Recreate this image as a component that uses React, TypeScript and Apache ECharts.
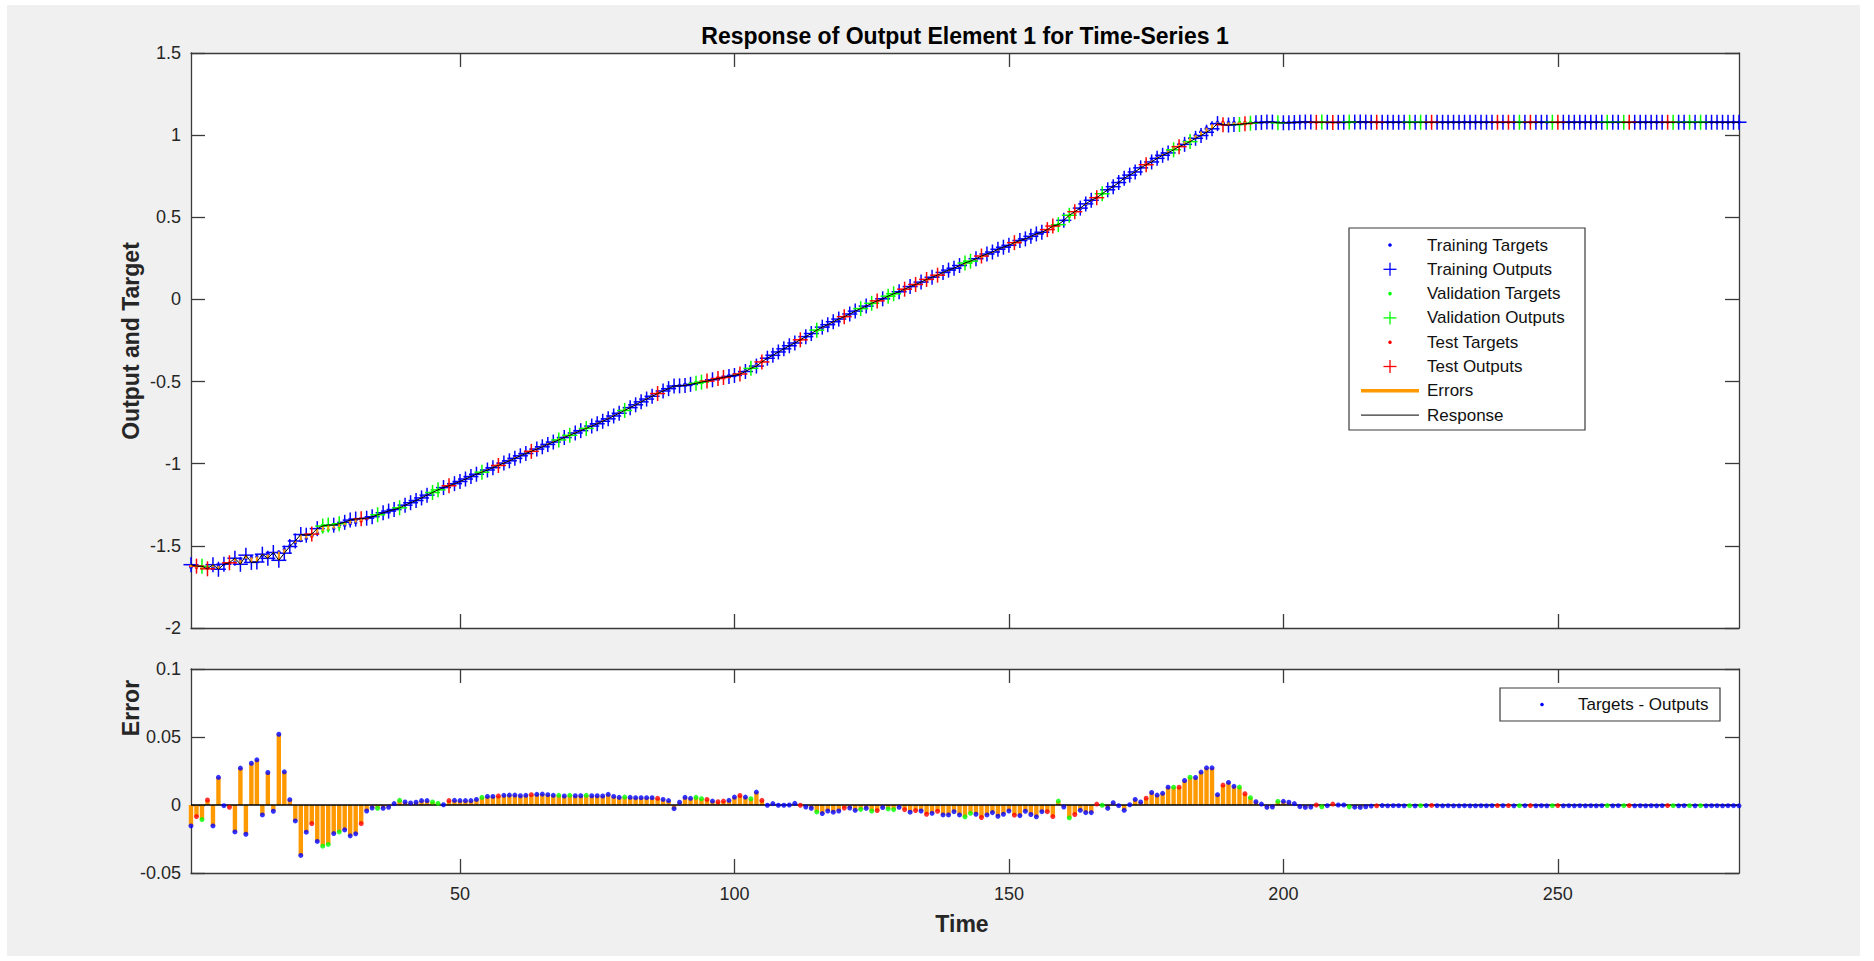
import React, { useEffect, useRef } from "react";
import * as echarts from "echarts";

// ---------- data ----------
const timeSteps: number[] = [];
for (let i = 1; i <= 283; i++) timeSteps.push(i);

const targets: number[] = [
  -1.630, -1.632, -1.635, -1.636, -1.630, -1.622, -1.612, -1.605, -1.595, -1.585,
  -1.578, -1.570, -1.565, -1.558, -1.552, -1.545, -1.536, -1.520, -1.500, -1.482,
  -1.468, -1.455, -1.442, -1.422, -1.410, -1.402, -1.395, -1.385, -1.375, -1.366,
  -1.358, -1.348, -1.336, -1.325, -1.313, -1.301, -1.290, -1.278, -1.265, -1.250,
  -1.236, -1.222, -1.205, -1.188, -1.173, -1.158, -1.145, -1.131, -1.118, -1.105,
  -1.090, -1.075, -1.060, -1.046, -1.032, -1.018, -1.004, -0.989, -0.975, -0.960,
  -0.945, -0.931, -0.917, -0.903, -0.889, -0.875, -0.861, -0.848, -0.834, -0.820,
  -0.806, -0.792, -0.778, -0.764, -0.750, -0.735, -0.719, -0.703, -0.687, -0.670,
  -0.653, -0.636, -0.618, -0.601, -0.584, -0.568, -0.553, -0.540, -0.530, -0.524,
  -0.518, -0.512, -0.505, -0.499, -0.493, -0.486, -0.479, -0.472, -0.465, -0.457,
  -0.447, -0.433, -0.415, -0.396, -0.377, -0.358, -0.339, -0.320, -0.301, -0.282,
  -0.264, -0.246, -0.228, -0.210, -0.192, -0.175, -0.158, -0.141, -0.124, -0.107,
  -0.091, -0.075, -0.059, -0.043, -0.028, -0.013, 0.002, 0.017, 0.031, 0.045,
  0.059, 0.073, 0.087, 0.101, 0.115, 0.129, 0.143, 0.157, 0.171, 0.185,
  0.199, 0.213, 0.227, 0.241, 0.255, 0.269, 0.283, 0.297, 0.311, 0.325,
  0.338, 0.351, 0.364, 0.377, 0.390, 0.404, 0.420, 0.438, 0.458, 0.480,
  0.503, 0.527, 0.552, 0.576, 0.598, 0.620, 0.643, 0.665, 0.688, 0.711,
  0.734, 0.757, 0.780, 0.803, 0.825, 0.846, 0.866, 0.886, 0.905, 0.924,
  0.943, 0.962, 0.981, 1.001, 1.022, 1.045, 1.066, 1.078,
  1.078, 1.078, 1.078, 1.078, 1.078, 1.078, 1.078, 1.078, 1.078, 1.078,
  1.078, 1.078, 1.078, 1.078, 1.078, 1.078, 1.078, 1.078, 1.078, 1.078,
  1.078, 1.078, 1.078, 1.078, 1.078, 1.078, 1.078, 1.078, 1.078, 1.078,
  1.078, 1.078, 1.078, 1.078, 1.078, 1.078, 1.078, 1.078, 1.078, 1.078,
  1.078, 1.078, 1.078, 1.078, 1.078, 1.078, 1.078, 1.078, 1.078, 1.078,
  1.078, 1.078, 1.078, 1.078, 1.078, 1.078, 1.078, 1.078, 1.078, 1.078,
  1.078, 1.078, 1.078, 1.078, 1.078, 1.078, 1.078, 1.078, 1.078, 1.078,
  1.078, 1.078, 1.078, 1.078, 1.078, 1.078, 1.078, 1.078, 1.078, 1.078,
  1.078, 1.078, 1.078, 1.078, 1.078, 1.078, 1.078, 1.078, 1.078, 1.078,
  1.078, 1.078, 1.078, 1.078, 1.078,
];

// errors = targets - outputs
const errors: number[] = [
  -0.0154, -0.0085, -0.0107, 0.0037, -0.0154, 0.0203, -0.0005, -0.0017, -0.0198, 0.0271,
  -0.0215, 0.0307, 0.0332, -0.0073, 0.0239, -0.0046, 0.0520, 0.0244, 0.0039, -0.0117,
  -0.0371, -0.0200, -0.0137, -0.0268, -0.0303, -0.0290, -0.0210, -0.0198, -0.0183, -0.0227,
  -0.0212, -0.0137, -0.0044, -0.0022, -0.0024, -0.0024, -0.0017, 0.0010, 0.0034, 0.0022,
  0.0015, 0.0020, 0.0032, 0.0032, 0.0022, 0.0012, 0.0002, 0.0032, 0.0034, 0.0032,
  0.0032, 0.0032, 0.0041, 0.0056, 0.0063, 0.0063, 0.0066, 0.0071, 0.0073, 0.0073,
  0.0068, 0.0071, 0.0076, 0.0078, 0.0080, 0.0076, 0.0071, 0.0071, 0.0066, 0.0071,
  0.0068, 0.0068, 0.0071, 0.0068, 0.0068, 0.0066, 0.0078, 0.0063, 0.0056, 0.0058,
  0.0056, 0.0054, 0.0054, 0.0054, 0.0054, 0.0049, 0.0041, 0.0032, -0.0027, 0.0020,
  0.0056, 0.0049, 0.0056, 0.0046, 0.0041, 0.0029, 0.0024, 0.0029, 0.0034, 0.0058,
  0.0070, 0.0058, 0.0046, 0.0095, 0.0034, -0.0002, 0.0010, -0.0002, -0.0002, 0.0000,
  0.0012, -0.0002, -0.0015, -0.0024, -0.0051, -0.0063, -0.0044, -0.0053, -0.0044, -0.0022,
  -0.0022, -0.0039, -0.0032, -0.0024, -0.0044, -0.0041, -0.0019, -0.0029, -0.0034, -0.0017,
  -0.0034, -0.0053, -0.0041, -0.0044, -0.0068, -0.0061, -0.0046, -0.0073, -0.0073, -0.0049,
  -0.0073, -0.0087, -0.0061, -0.0068, -0.0092, -0.0073, -0.0056, -0.0083, -0.0068, -0.0044,
  -0.0075, -0.0078, -0.0046, -0.0070, -0.0087, -0.0049, -0.0049, -0.0085, 0.0029, -0.0015,
  -0.0095, -0.0070, -0.0039, -0.0056, -0.0056, 0.0007, -0.0002, -0.0024, 0.0017, -0.0005,
  -0.0039, 0.0002, 0.0041, 0.0022, 0.0050, 0.0092, 0.0073, 0.0086, 0.0131, 0.0131,
  0.0131, 0.0180, 0.0204, 0.0202, 0.0242, 0.0273, 0.0273, 0.0076, 0.0146, 0.0166,
  0.0137, 0.0132, 0.0083, 0.0054, 0.0024, 0.0007, -0.0017, -0.0015, 0.0027, 0.0027,
  0.0020, 0.0010, -0.0012, -0.0018, -0.0015, 0.0000, -0.0013, -0.0005, 0.0007, 0.0000,
  0.0000, -0.0013, -0.0016, -0.0018, -0.0013, -0.0008, -0.0006, -0.0004, -0.0006, -0.0005,
  -0.0005, -0.0006, -0.0005, -0.0007, -0.0005, -0.0004, -0.0003, -0.0005, -0.0006, -0.0005,
  -0.0006, -0.0006, -0.0005, -0.0006, -0.0006, -0.0005, -0.0006, -0.0005, -0.0004, -0.0005,
  -0.0004, -0.0006, -0.0005, -0.0005, -0.0004, -0.0006, -0.0005, -0.0006, -0.0005, -0.0004,
  -0.0006, -0.0005, -0.0006, -0.0005, -0.0006, -0.0005, -0.0006, -0.0005, -0.0004, -0.0006,
  -0.0005, -0.0005, -0.0004, -0.0006, -0.0005, -0.0006, -0.0005, -0.0006, -0.0005, -0.0004,
  -0.0005, -0.0006, -0.0005, -0.0005, -0.0006, -0.0005, -0.0006, -0.0005, -0.0005, -0.0006,
  -0.0005, -0.0005, -0.0006,
];

// T = training, V = validation, E = test
const splitCodes: string =
  "TEVETTTETT" + "TTTTTTTTTT" + "TTETVVTVTT" + "TETTVTTTVT" + "TTTTVVTETT" +
  "TTTVTTETTT" + "TTETTTTVTV" + "TTVTTTTTTV" + "TTTTTETTTT" + "TTVVETEETT" +
  "ETVTETTTTT" + "TETTVTTTTE" + "TTVTVETVVT" + "ETETETETTT" + "TVVTETTTTT" +
  "ETTTTTEEVT" + "VETTTEVTTT" + "TTTTETTTTV" + "ETVTTTTTET" + "TVEVTTTTVT" +
  "TTTTTEVTET" + "TVTTTTETTT" + "TTVTVTETTT" + "TTTTTTTTET" + "ETVTETTTVE" +
  "TTTTTTTTVT" + "TVETTTTTTE" + "VTTVTVTTTT" + "TTT";

const xTickValues: number[] = [50, 100, 150, 200, 250];

const legendLabels: string[] = [
  "Training Targets", "Training Outputs", "Validation Targets", "Validation Outputs",
  "Test Targets", "Test Outputs", "Errors", "Response",
];

// ---------- styles ----------
const COLORS: Record<string, string> = { T: "#0000ff", V: "#00ff00", E: "#ff0000" };
const ORANGE = "#ff9900";
const AXIS = "#3a3a3a";
const FONT = "'Liberation Sans', Arial, Helvetica, sans-serif";
const PLUS_HALF = 7.5;
const PLUS_WIDTH = 1.5;

export default function App() {
  const ref = useRef<HTMLDivElement>(null);

  useEffect(() => {
    if (!ref.current) return;
    const chart = echarts.init(ref.current, null, { renderer: "svg", width: 1874, height: 961 });

    const outputs = targets.map((t, i) => t - errors[i]);

    const targetData = (code: string) =>
      timeSteps.filter((_, i) => splitCodes[i] === code).map((t) => [t, targets[t - 1]]);
    const outputData = (code: string) =>
      timeSteps.filter((_, i) => splitCodes[i] === code).map((t) => [t, outputs[t - 1]]);
    const errorData = (code: string) =>
      timeSteps.filter((_, i) => splitCodes[i] === code).map((t) => [t, errors[t - 1]]);

    const plusSeries = (code: string) => ({
      type: "custom",
      xAxisIndex: 0,
      yAxisIndex: 0,
      clip: false,
      z: 3,
      data: outputData(code),
      renderItem: (params: any, api: any) => {
        const p = api.coord([api.value(0), api.value(1)]);
        const h = PLUS_HALF;
        const st = { stroke: COLORS[code], lineWidth: PLUS_WIDTH };
        return {
          type: "group",
          children: [
            { type: "line", shape: { x1: p[0] - h, y1: p[1], x2: p[0] + h, y2: p[1] }, style: st },
            { type: "line", shape: { x1: p[0], y1: p[1] - h, x2: p[0], y2: p[1] + h }, style: st },
          ],
        };
      },
    });

    const targetSeries = (code: string) => ({
      type: "scatter",
      xAxisIndex: 0,
      yAxisIndex: 0,
      symbol: "circle",
      symbolSize: 3.5,
      z: 2,
      itemStyle: { color: COLORS[code] },
      data: targetData(code),
    });

    const errDotSeries = (code: string) => ({
      type: "scatter",
      xAxisIndex: 2,
      yAxisIndex: 2,
      symbol: "circle",
      symbolSize: 5,
      z: 5,
      itemStyle: { color: COLORS[code] },
      data: errorData(code),
    });

    const makeX = (gridIndex: number, position: "bottom" | "top", labels: boolean) => ({
      type: "value",
      gridIndex,
      position,
      min: 1,
      max: 283,
      axisLine: { show: true, onZero: false, lineStyle: { color: AXIS, width: 1.3 } },
      axisTick: { show: true, inside: true, length: 14, customValues: xTickValues, lineStyle: { color: AXIS, width: 1.3 } },
      axisLabel: { show: labels, customValues: xTickValues, fontSize: 18, color: "#262626", fontFamily: FONT, margin: 12 },
      splitLine: { show: false },
    });

    const makeY = (gridIndex: number, position: "left" | "right", labels: boolean, min: number, max: number, interval: number) => ({
      type: "value",
      gridIndex,
      position,
      min,
      max,
      interval,
      axisLine: { show: true, onZero: false, lineStyle: { color: AXIS, width: 1.3 } },
      axisTick: { show: true, inside: true, length: 14, lineStyle: { color: AXIS, width: 1.3 } },
      axisLabel: {
        show: labels,
        fontSize: 18,
        color: "#262626",
        fontFamily: FONT,
        margin: 10,
        formatter: (v: number) => String(Math.round(v * 1000) / 1000),
      },
      splitLine: { show: false },
    });

    // legend graphics
    const lgX = 1390;
    const lgTextX = 1427;
    const lgY0 = 245;
    const lgStep = 24.3;
    const legendChildren: any[] = [
      { type: "rect", shape: { x: 1349, y: 228, width: 236, height: 202 }, style: { fill: "#fff", stroke: AXIS, lineWidth: 1.2 } },
    ];
    const legendCodes = ["T", "T", "V", "V", "E", "E"];
    legendLabels.forEach((label, i) => {
      const y = lgY0 + i * lgStep;
      if (i < 6) {
        const c = COLORS[legendCodes[i]];
        if (i % 2 === 0) {
          legendChildren.push({ type: "circle", shape: { cx: lgX, cy: y, r: 1.8 }, style: { fill: c } });
        } else {
          legendChildren.push({ type: "line", shape: { x1: lgX - 6.5, y1: y, x2: lgX + 6.5, y2: y }, style: { stroke: c, lineWidth: 1.3 } });
          legendChildren.push({ type: "line", shape: { x1: lgX, y1: y - 6.5, x2: lgX, y2: y + 6.5 }, style: { stroke: c, lineWidth: 1.3 } });
        }
      } else if (i === 6) {
        legendChildren.push({ type: "line", shape: { x1: 1361, y1: y, x2: 1419, y2: y }, style: { stroke: ORANGE, lineWidth: 3.5 } });
      } else {
        legendChildren.push({ type: "line", shape: { x1: 1361, y1: y, x2: 1419, y2: y }, style: { stroke: "#000", lineWidth: 1 } });
      }
      legendChildren.push({
        type: "text",
        x: lgTextX,
        y,
        style: { text: label, fontSize: 17, fontFamily: FONT, fill: "#111", textVerticalAlign: "middle", verticalAlign: "middle" },
      });
    });
    // lower legend
    legendChildren.push({ type: "rect", shape: { x: 1500, y: 688, width: 220, height: 33 }, style: { fill: "#fff", stroke: AXIS, lineWidth: 1.2 } });
    legendChildren.push({ type: "circle", shape: { cx: 1542, cy: 704.5, r: 1.8 }, style: { fill: COLORS.T } });
    legendChildren.push({
      type: "text",
      x: 1578,
      y: 704.5,
      style: { text: "Targets - Outputs", fontSize: 17, fontFamily: FONT, fill: "#111", verticalAlign: "middle", textVerticalAlign: "middle" },
    });

    const labelStyle = (text: string, fill: string) => ({
      text,
      fontSize: 23,
      fontWeight: "bold",
      fontFamily: FONT,
      fill,
      align: "center",
      verticalAlign: "middle",
      textAlign: "center",
      textVerticalAlign: "middle",
    });

    const option: any = {
      animation: false,
      backgroundColor: "#f0f0f0",
      grid: [
        { left: 191, top: 53, width: 1548, height: 575, show: true, backgroundColor: "#ffffff", borderWidth: 0 },
        { left: 191, top: 669, width: 1548, height: 204, show: true, backgroundColor: "#ffffff", borderWidth: 0 },
      ],
      xAxis: [makeX(0, "bottom", false), makeX(0, "top", false), makeX(1, "bottom", true), makeX(1, "top", false)],
      yAxis: [
        makeY(0, "left", true, -2, 1.5, 0.5),
        makeY(0, "right", false, -2, 1.5, 0.5),
        makeY(1, "left", true, -0.05, 0.1, 0.05),
        makeY(1, "right", false, -0.05, 0.1, 0.05),
      ],
      series: [
        targetSeries("T"),
        plusSeries("T"),
        targetSeries("V"),
        plusSeries("V"),
        targetSeries("E"),
        plusSeries("E"),
        {
          type: "custom",
          xAxisIndex: 0,
          yAxisIndex: 0,
          z: 4,
          data: timeSteps.map((t, i) => [t, targets[i], outputs[i]]),
          renderItem: (params: any, api: any) => {
            const a = api.coord([api.value(0), api.value(1)]);
            const b = api.coord([api.value(0), api.value(2)]);
            return { type: "line", shape: { x1: a[0], y1: a[1], x2: b[0], y2: b[1] }, style: { stroke: ORANGE, lineWidth: 2 } };
          },
        },
        {
          type: "line",
          xAxisIndex: 0,
          yAxisIndex: 0,
          z: 5,
          symbol: "none",
          lineStyle: { color: "#000", width: 1 },
          data: timeSteps.map((t, i) => [t, outputs[i]]),
        },
        // bottom: error stems
        {
          type: "custom",
          xAxisIndex: 2,
          yAxisIndex: 2,
          z: 3,
          data: timeSteps.map((t, i) => [t, errors[i]]),
          renderItem: (params: any, api: any) => {
            const a = api.coord([api.value(0), 0]);
            const b = api.coord([api.value(0), api.value(1)]);
            const w = 4.4;
            return {
              type: "rect",
              shape: { x: a[0] - w / 2, y: Math.min(a[1], b[1]), width: w, height: Math.abs(b[1] - a[1]) },
              style: { fill: ORANGE },
            };
          },
        },
        {
          type: "line",
          xAxisIndex: 2,
          yAxisIndex: 2,
          z: 4,
          symbol: "none",
          lineStyle: { color: "#000", width: 1.3 },
          data: [[1, 0], [283, 0]],
        },
        errDotSeries("T"),
        errDotSeries("V"),
        errDotSeries("E"),
      ],
      graphic: [
        { type: "rect", z: 100, shape: { x: 0, y: 0, width: 1874, height: 5 }, style: { fill: "#fff" } },
        { type: "rect", z: 100, shape: { x: 0, y: 0, width: 7, height: 961 }, style: { fill: "#fff" } },
        { type: "rect", z: 100, shape: { x: 1860, y: 0, width: 14, height: 961 }, style: { fill: "#fff" } },
        { type: "rect", z: 100, shape: { x: 0, y: 956, width: 1874, height: 5 }, style: { fill: "#fff" } },
        { type: "text", z: 100, x: 965, y: 36, style: labelStyle("Response of Output Element 1 for Time-Series 1", "#000") },
        { type: "text", z: 100, x: 131, y: 341, rotation: Math.PI / 2, style: labelStyle("Output and Target", "#262626") },
        { type: "text", z: 100, x: 131, y: 708, rotation: Math.PI / 2, style: labelStyle("Error", "#262626") },
        { type: "text", z: 100, x: 962, y: 924, style: labelStyle("Time", "#262626") },
        { type: "group", z: 100, children: legendChildren },
      ],
    };

    chart.setOption(option);
    return () => chart.dispose();
  }, []);

  return <div ref={ref} style={{ position: "absolute", left: 0, top: 0, width: 1874, height: 961 }} />;
}
